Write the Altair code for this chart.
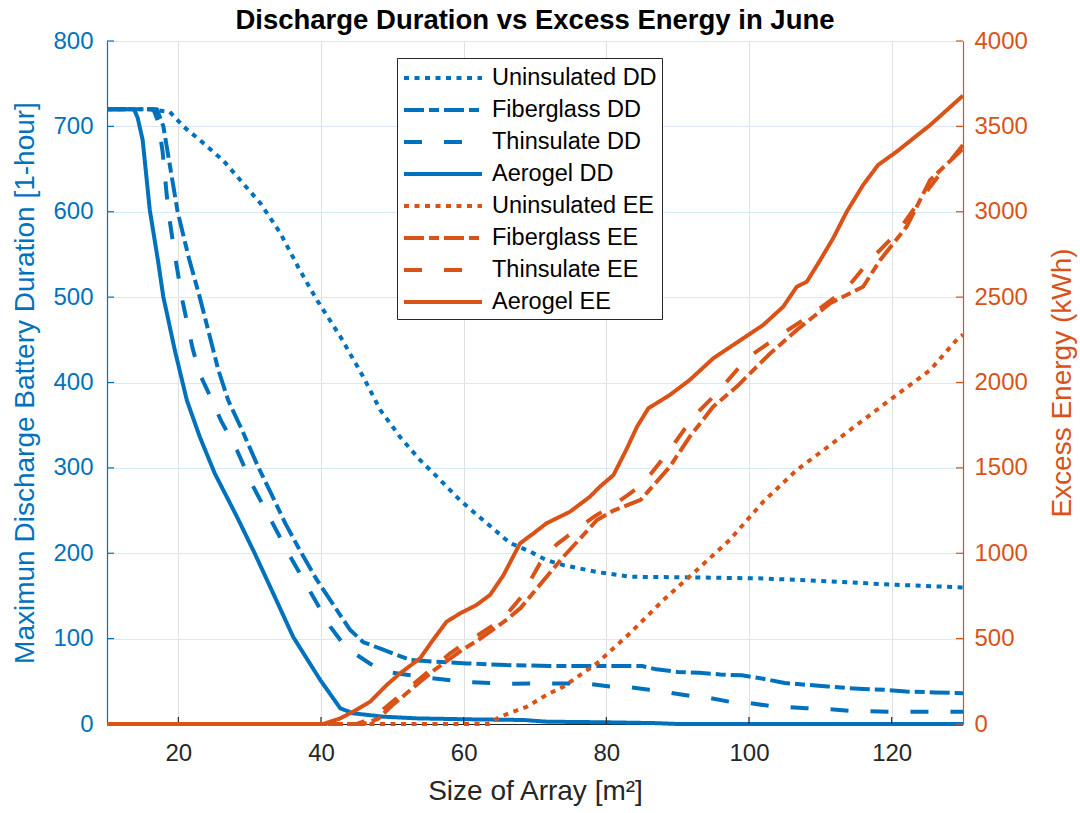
import altair as alt
import pandas as pd

BLUE = "#0072BD"
ORANGE = "#D95319"
DARK = "#262626"
FONT = "Liberation Sans"

series_names = ["Uninsulated DD", "Fiberglass DD", "Thinsulate DD", "Aerogel DD",
                "Uninsulated EE", "Fiberglass EE", "Thinsulate EE", "Aerogel EE"]

# ---- Discharge duration (left axis, hours) ----
unins_dd_x = [10, 16, 18.8, 20.7, 23, 26.3, 29.1, 31.5, 34.3, 37, 39.4, 42.7, 45.9, 48.3, 51.1,
              53.9, 56.7, 59.5, 62.7, 66.5, 69.3, 71.6, 74, 78.7, 83.3, 92.7, 102, 111.4, 120.7, 130]
unins_dd_y = [720, 720, 717, 700, 684, 660, 633, 610, 575, 532, 497, 454, 407, 368, 336,
              309, 286, 262, 239, 212, 202, 192, 186, 178, 172.5, 171.6, 170.5, 167, 163, 160]

fiber_dd_x = [10, 17, 17.9, 19.9, 21.5, 23, 25.6, 27, 29, 31.2, 33, 35, 37, 39.4, 41.7, 44.1, 45.9,
              48.7, 52.5, 56, 60.4, 66, 72, 85, 87, 90, 93, 96, 99, 102, 105, 108, 111, 114, 116,
              119, 122, 126, 130]
fiber_dd_y = [720, 720, 700, 600, 545, 500, 415, 379, 343, 301, 270, 235, 204, 169, 140, 110, 96,
              87, 75, 73, 71, 69, 68, 68, 64, 61, 60, 58, 57, 53, 48, 46, 44, 42, 41,
              40, 38, 37, 36]

thin_dd_x = [10, 16.5, 17.2, 17.8, 18.6, 19.6, 20.6, 22, 23, 24.4, 26, 28.2, 30.5, 33.1, 35.7, 38.5,
             41.3, 43, 45, 47, 49.2, 52.5, 55.3, 58.5, 60.5, 64, 66.5, 70, 77, 80.5, 83.3, 86, 88.5,
             91.7, 94.1, 97.3, 99.7, 103, 105.3, 108, 111, 114, 117, 120, 125, 130]
thin_dd_y = [720, 720, 705, 670, 600, 545, 495, 440, 410, 385, 355, 321, 278, 237, 196, 155,
             114, 95, 81, 70, 61, 57, 54, 51, 49, 48, 47, 47.6, 47.5, 44, 43, 40, 37,
             33, 31, 26, 25, 21, 20, 18.5, 17.5, 15.5, 15, 14.4, 14.4, 14.4]

aero_dd_x = [10, 13.8, 14.3, 15, 16, 17.2, 17.9, 18.4, 19.5, 21.2, 23, 25.1, 28.2, 30.7, 33.3, 36.1,
             39.9, 42.7, 44.5, 48.7, 53.4, 60.4, 68.4, 71.6, 80, 87, 90, 130]
aero_dd_y = [720, 720, 710, 684, 602, 540, 500, 481, 438, 379, 336.5, 293.6, 243, 200, 153, 102,
             51.5, 18.4, 12.5, 8.6, 6.6, 5.5, 4.7, 2.7, 2, 1, 0, 0]

# ---- Excess energy (right axis, kWh) ----
unins_ee_x = [10, 63.5, 65.1, 68.8, 71.6, 74, 78.7, 83.3, 88, 92.7, 97.3, 102, 106.7, 111.4, 116,
              120.7, 125.4, 129.3, 130]
unins_ee_y = [0, 0, 43, 100, 170, 219, 356, 531, 726, 902, 1078, 1302, 1488, 1634, 1780,
              1927, 2073, 2259, 2280]

fiber_ee_x = [10, 46, 48, 50, 52, 54, 56, 58, 60, 62, 64, 66, 68, 69.3, 74, 78.7, 81, 84.8, 88.9,
              91.7, 95, 98.3, 100.6, 103, 106.7, 111.4, 116, 118.4, 122.1, 125.4, 129.8, 130]
fiber_ee_y = [0, 0, 30, 110, 180, 250, 320, 380, 440, 490, 550, 610, 680, 746, 980, 1195, 1250, 1312,
              1507, 1683, 1859, 1976, 2073, 2171, 2308, 2464, 2561, 2718, 2913, 3186, 3362, 3370]

thin_ee_x = [10, 45, 46, 48, 50, 52, 54, 56, 58, 60, 62, 64, 66, 68, 70.7, 73, 76.3, 78.5, 81, 83,
             85.2, 88.9, 92.2, 95.5, 99.7, 104.4, 109, 113.7, 117, 120.7, 124, 127.2, 129.8, 130]
thin_ee_y = [0, 0, 15, 60, 130, 200, 270, 340, 410, 470, 520, 575, 640, 740, 941, 1050, 1155, 1220,
             1283, 1340, 1410, 1605, 1800, 1937, 2142, 2278, 2405, 2552, 2718, 2874, 3069, 3245,
             3381, 3390]

aero_ee_x = [10, 40.3, 42.7, 44.5, 46.9, 49.2, 51.1, 53.9, 55.7, 57.6, 59.5, 61.8, 63.7, 65.6, 67.9,
             69.8, 71.6, 74.9, 77.7, 79.1, 81, 82.9, 84.3, 85.9, 88.9, 91.7, 95, 99.2, 102, 104.8,
             106.7, 108.1, 110, 111.8, 113.7, 116, 118.1, 120.7, 125.4, 130]
aero_ee_y = [0, 0, 33, 72, 131, 228, 297, 385, 492, 599, 648, 697, 756, 873, 1058,
             1117, 1175, 1243, 1331, 1390, 1458, 1615, 1741, 1849, 1927, 2015, 2142, 2259, 2337, 2444,
             2561, 2590, 2718, 2845, 3000, 3157, 3274, 3352, 3508, 3680]

x_ticks = [20, 40, 60, 80, 100, 120]
left_ticks = [0, 100, 200, 300, 400, 500, 600, 700, 800]
right_ticks = [0, 500, 1000, 1500, 2000, 2500, 3000, 3500, 4000]

colors = [BLUE] * 4 + [ORANGE] * 4
dash_styles = [[5, 5.5], [20, 5, 10, 5], [18, 22], [1, 0]] * 2


def frame(name, xs, ys):
    return pd.DataFrame({"x": xs, "y": ys, "series": name})


dd_df = pd.concat([frame("Uninsulated DD", unins_dd_x, unins_dd_y),
                   frame("Fiberglass DD", fiber_dd_x, fiber_dd_y),
                   frame("Thinsulate DD", thin_dd_x, thin_dd_y),
                   frame("Aerogel DD", aero_dd_x, aero_dd_y)], ignore_index=True)
ee_df = pd.concat([frame("Uninsulated EE", unins_ee_x, unins_ee_y),
                   frame("Fiberglass EE", fiber_ee_x, fiber_ee_y),
                   frame("Thinsulate EE", thin_ee_x, thin_ee_y),
                   frame("Aerogel EE", aero_ee_x, aero_ee_y)], ignore_index=True)

W, H = 856, 683

X = alt.X("x:Q", scale=alt.Scale(domain=[10, 130], nice=False, zero=False),
          axis=alt.Axis(values=x_ticks, title="Size of Array [m²]", labelFontSize=24, labelColor=DARK,
                        labelFont=FONT, labelPadding=17, ticks=False, tickSize=0, domainColor=DARK,
                        domainWidth=1, grid=True, gridColor="#e0e0e0", gridWidth=1,
                        titleFontSize=28, titleFontWeight="normal", titleColor=DARK, titleFont=FONT,
                        titleY=75, titleBaseline="alphabetic"))

YL = alt.Y("y:Q", scale=alt.Scale(domain=[0, 800], nice=False),
           axis=alt.Axis(values=left_ticks, orient="left", title="Maximun Discharge Battery Duration [1-hour]",
                         labelFontSize=24, labelColor=BLUE, labelFont=FONT, labelPadding=14,
                         ticks=False, tickSize=0, domainColor=BLUE, domainWidth=1.2,
                         grid=True, gridColor="#d9e8f4", gridWidth=1,
                         titleFontSize=28, titleFontWeight="normal", titleColor=BLUE, titleFont=FONT,
                         titleAngle=270, titleX=-74, titleY=H / 2, titleBaseline="alphabetic",
                         titleAlign="center"))

YR = alt.Y("y:Q", scale=alt.Scale(domain=[0, 4000], nice=False),
           axis=alt.Axis(values=right_ticks, orient="right", title="Excess Energy (kWh)", format="d",
                         labelFontSize=24, labelColor=ORANGE, labelFont=FONT, labelPadding=11,
                         ticks=False, tickSize=0, domainColor=ORANGE, domainWidth=1.2, grid=False,
                         titleFontSize=28, titleFontWeight="normal", titleColor=ORANGE, titleFont=FONT,
                         titleAngle=270, titleX=107, titleY=H / 2, titleBaseline="alphabetic",
                         titleAlign="center"))

leg = alt.Legend(title=None, orient="none", legendX=290, legendY=17, padding=5,
                 strokeColor=DARK, fillColor="white", symbolType="M-1,0L5,0", symbolSize=676,
                 symbolStrokeWidth=4, labelOffset=60, rowPadding=5, labelFontSize=23.5,
                 labelFont=FONT, labelColor="black", labelLimit=0)

color = alt.Color("series:N", scale=alt.Scale(domain=series_names, range=colors), legend=leg)
dash = alt.StrokeDash("series:N", scale=alt.Scale(domain=series_names, range=dash_styles), legend=leg)

dd_lines = alt.Chart(dd_df).mark_line(strokeWidth=4, strokeCap="butt", strokeJoin="round").encode(
    x=X, y=YL, color=color, strokeDash=dash)
ee_lines = alt.Chart(ee_df).mark_line(strokeWidth=4, strokeCap="butt", strokeJoin="round").encode(
    x=X, y=YR, color=color, strokeDash=dash)

xt = alt.Chart(pd.DataFrame({"x": x_ticks})).mark_rule(color=DARK, strokeWidth=1.2).encode(
    x=X, y=alt.value(H), y2=alt.value(H - 7))
lt = alt.Chart(pd.DataFrame({"y": left_ticks})).mark_rule(color=BLUE, strokeWidth=1.2).encode(
    y=YL, x=alt.value(0), x2=alt.value(7))
rt = alt.Chart(pd.DataFrame({"y": right_ticks})).mark_rule(color=ORANGE, strokeWidth=1.2).encode(
    y=YR, x=alt.value(W), x2=alt.value(W - 7))

left = alt.layer(dd_lines, lt, xt)
right = alt.layer(ee_lines, rt)

chart = alt.layer(left, right).resolve_scale(y="independent").properties(
    width=W, height=H,
    title=alt.TitleParams("Discharge Duration vs Excess Energy in June", fontSize=27.5, fontWeight="bold",
                          font=FONT, color="black", anchor="middle", frame="group", offset=7, dy=12.5),
    padding={"left": 107, "top": 41, "right": 117, "bottom": 89},
    autosize=alt.AutoSizeParams(type="none"),
).configure_view(stroke=None).configure(font=FONT, background="white")

chart.save("out.html", embed_options={"renderer": "svg", "actions": False})
